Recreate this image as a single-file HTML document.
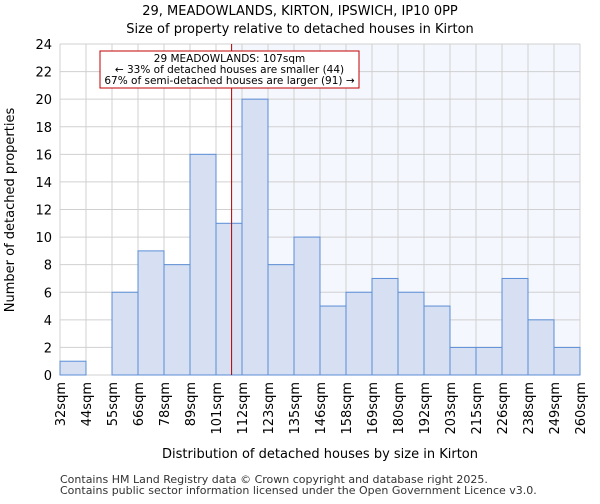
<!DOCTYPE html>
<html><head><meta charset="utf-8"><style>
body{margin:0;background:#fff;font-family:"DejaVu Sans","Liberation Sans",sans-serif}
</style></head><body>
<svg id="chart" width="600" height="500" xmlns="http://www.w3.org/2000/svg" font-family="DejaVu Sans, Liberation Sans, sans-serif">
<text x="300" y="15" text-anchor="middle" font-size="13">29, MEADOWLANDS, KIRTON, IPSWICH, IP10 0PP</text>
<text x="300" y="33" text-anchor="middle" font-size="13">Size of property relative to detached houses in Kirton</text>
<g id="plot"></g>
<text x="320" y="458" text-anchor="middle" font-size="13">Distribution of detached houses by size in Kirton</text>
<text transform="translate(14,210) rotate(-90)" text-anchor="middle" font-size="13">Number of detached properties</text>
<text x="60" y="483" font-size="11" fill="#333">Contains HM Land Registry data © Crown copyright and database right 2025.</text>
<text x="60" y="494" font-size="11" fill="#333">Contains public sector information licensed under the Open Government Licence v3.0.</text>
</svg>
<script>
const edgeLabels=["32sqm","44sqm","55sqm","66sqm","78sqm","89sqm","101sqm","112sqm","123sqm","135sqm","146sqm","158sqm","169sqm","180sqm","192sqm","203sqm","215sqm","226sqm","238sqm","249sqm","260sqm"];
const counts=[1,0,6,9,8,16,11,20,8,10,5,6,7,6,5,2,2,7,4,2];
const yTicks=[0,2,4,6,8,10,12,14,16,18,20,22,24];
const markerBin=6.6;
const X0=60,X1=580,Y0=375,Y1=44,YMAX=24;
const ns="http://www.w3.org/2000/svg";
const g=document.getElementById('plot');
const bw=(X1-X0)/counts.length;
const x=i=>X0+i*bw;
const y=v=>Y0-(v/YMAX)*(Y0-Y1);
function el(t,a){const e=document.createElementNS(ns,t);for(const k in a)e.setAttribute(k,a[k]);g.appendChild(e);return e;}
const mx=x(markerBin);
let r=el('rect',{x:mx,y:Y1,width:X1-mx,height:Y0-Y1,fill:'#f4f7fd'});


yTicks.forEach(t=>{let l=el('line',{x1:X0,x2:X1,y1:y(t),y2:y(t),stroke:'#d0d0d0'});


let tx=el('text',{x:X0-8,y:y(t)+5,'text-anchor':'end','font-size':13});tx.textContent=t;

});
edgeLabels.forEach((s,i)=>{let l=el('line',{x1:x(i),x2:x(i),y1:Y1,y2:Y0,stroke:'#d0d0d0'});


let tx=el('text',{transform:`translate(${x(i)+5},382) rotate(-90)`,'text-anchor':'end','font-size':13});tx.textContent=s;

});
counts.forEach((v,i)=>{if(v<=0)return;let b=el('rect',{x:x(i),y:y(v),width:bw,height:Y0-y(v),fill:'#d6e0f2',stroke:'#5b8dd6','stroke-width':1});

});
let ml=el('line',{x1:mx,x2:mx,y1:Y1,y2:Y0,stroke:'#b00000','stroke-width':1});


let box=el('rect',{x:100,y:51,width:259,height:37,fill:'#fff',stroke:'#c00000'});


["29 MEADOWLANDS: 107sqm","← 33% of detached houses are smaller (44)","67% of semi-detached houses are larger (91) →"].forEach((s,i)=>{let t=el('text',{x:229.5,y:62+i*11,'text-anchor':'middle','font-size':10.5});t.textContent=s;

});
</script>
</body></html>
